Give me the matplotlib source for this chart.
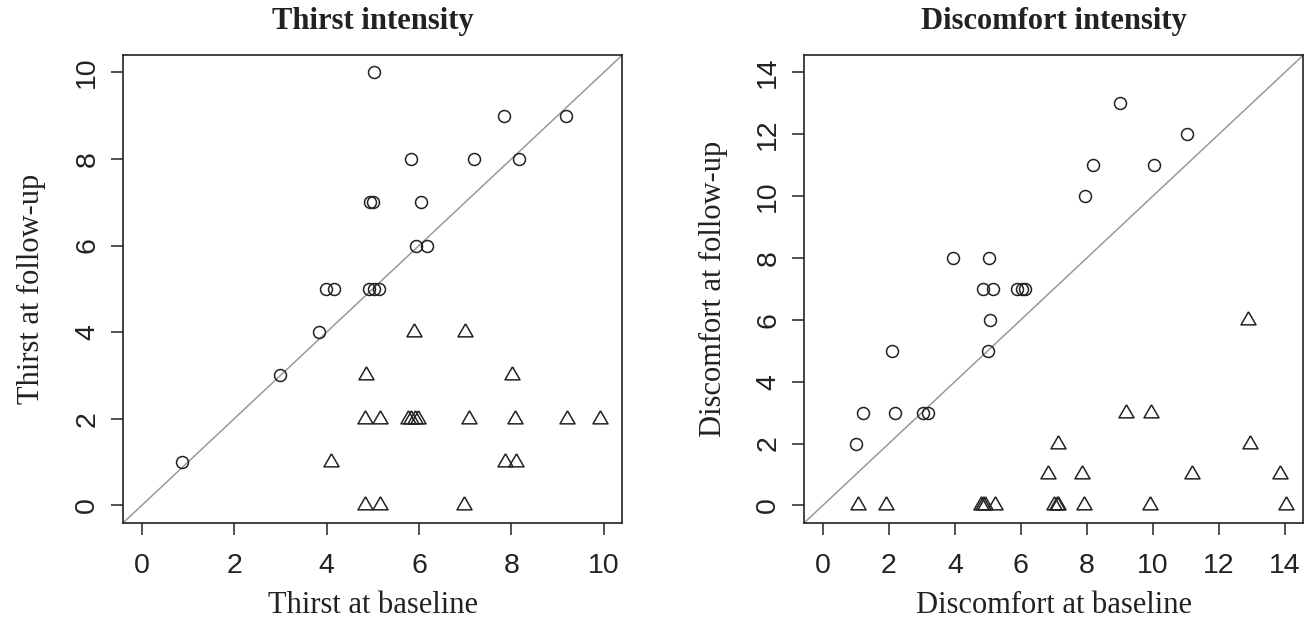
import numpy as np
import matplotlib
matplotlib.use("Agg")
import matplotlib.pyplot as plt

# thirst: circles = follow-up >= baseline, triangles = follow-up < baseline
thirst_circle_x = [0.87, 3.0, 3.84, 3.98, 4.17, 4.91, 5.03, 5.13, 4.95, 5.01,
                   5.03, 5.83, 6.04, 5.94, 6.17, 7.2, 7.84, 8.16, 9.18]
thirst_circle_y = [1, 3, 4, 5, 5, 5, 5, 5, 7, 7, 10, 8, 7, 6, 6, 8, 9, 8, 9]
thirst_tri_x = [5.9, 7.0, 4.85, 8.01, 4.83, 5.15, 5.76, 5.83, 5.91, 5.97,
                7.08, 8.07, 9.2, 9.91, 4.1, 7.86, 8.09, 4.84, 5.16, 6.98]
thirst_tri_y = [4, 4, 3, 3, 2, 2, 2, 2, 2, 2, 2, 2, 2, 2, 1, 1, 1, 0, 0, 0]

# discomfort
disc_circle_x = [0.99, 1.22, 2.19, 2.09, 3.04, 3.2, 3.95, 5.02, 4.85, 5.15,
                 5.88, 6.03, 6.12, 5.05, 5.01, 7.95, 8.18, 9.0, 10.04, 11.02]
disc_circle_y = [2, 3, 3, 5, 3, 3, 8, 8, 7, 7, 7, 7, 7, 6, 5, 10, 11, 13, 11, 12]
disc_tri_x = [12.87, 9.18, 9.94, 7.12, 12.94, 6.82, 7.84, 11.19, 13.85, 1.05,
              1.91, 4.78, 4.85, 4.9, 5.21, 6.99, 7.08, 7.14, 7.9, 9.91, 14.02]
disc_tri_y = [6, 3, 3, 2, 2, 1, 1, 1, 1, 0, 0, 0, 0, 0, 0, 0, 0, 0, 0, 0, 0]

panels = [
    ("Thirst intensity", "Thirst at baseline", "Thirst at follow-up", 10,
     thirst_circle_x, thirst_circle_y, thirst_tri_x, thirst_tri_y),
    ("Discomfort intensity", "Discomfort at baseline", "Discomfort at follow-up", 14,
     disc_circle_x, disc_circle_y, disc_tri_x, disc_tri_y),
]

# R style triangle (pch = 2), centroid on the point
tri = [(0, 1), (-0.866, -0.5), (0.866, -0.5), (0, 1)]

fig = plt.figure(figsize=(13.09, 6.28), dpi=100)
ink = "#222222"
serif = ["Liberation Serif", "DejaVu Serif"]
sans = ["Liberation Sans", "DejaVu Sans"]

lefts = [0.0942, 0.6145]
for left, (title, xlab, ylab, vmax, cx, cy, tx, ty) in zip(lefts, panels):
    ax = fig.add_axes([left, 0.1677, 0.3812, 0.7447])
    pad = vmax * 0.04
    ax.set_xlim(-pad, vmax + pad)
    ax.set_ylim(-pad, vmax + pad)

    # identity line
    ax.plot([-pad, vmax + pad], [-pad, vmax + pad], color="#999999", lw=1.1, zorder=1)

    ax.plot(cx, cy, linestyle="none", marker="o", markersize=8.6,
            markerfacecolor="none", markeredgecolor=ink, markeredgewidth=1.1, zorder=3)
    ax.plot(tx, ty, linestyle="none", marker=tri, markersize=12.5,
            markerfacecolor="none", markeredgecolor=ink, markeredgewidth=1.1, zorder=3)

    ticks = np.arange(0, vmax + 1, 2)
    ax.set_xticks(ticks)
    ax.set_yticks(ticks)
    ax.set_xticklabels([str(t) for t in ticks], fontfamily=sans, fontsize=20.5, color=ink)
    ax.set_yticklabels([str(t) for t in ticks], fontfamily=sans, fontsize=20.5, color=ink,
                       rotation=90, va="center")
    ax.tick_params(axis="both", direction="out", length=8.6, width=1.1, color=ink)
    ax.tick_params(axis="x", pad=13)
    ax.tick_params(axis="y", pad=8)

    for s in ax.spines.values():
        s.set_linewidth(1.2)
        s.set_color(ink)

    ax.set_title(title, fontfamily=serif, fontweight="bold", fontsize=22, color=ink, pad=19)
    ax.set_xlabel(xlab, fontfamily=serif, fontsize=22, color=ink, labelpad=9)
    ax.set_ylabel(ylab, fontfamily=serif, fontsize=22, color=ink, labelpad=20)

fig.savefig("out.png", dpi=100)
